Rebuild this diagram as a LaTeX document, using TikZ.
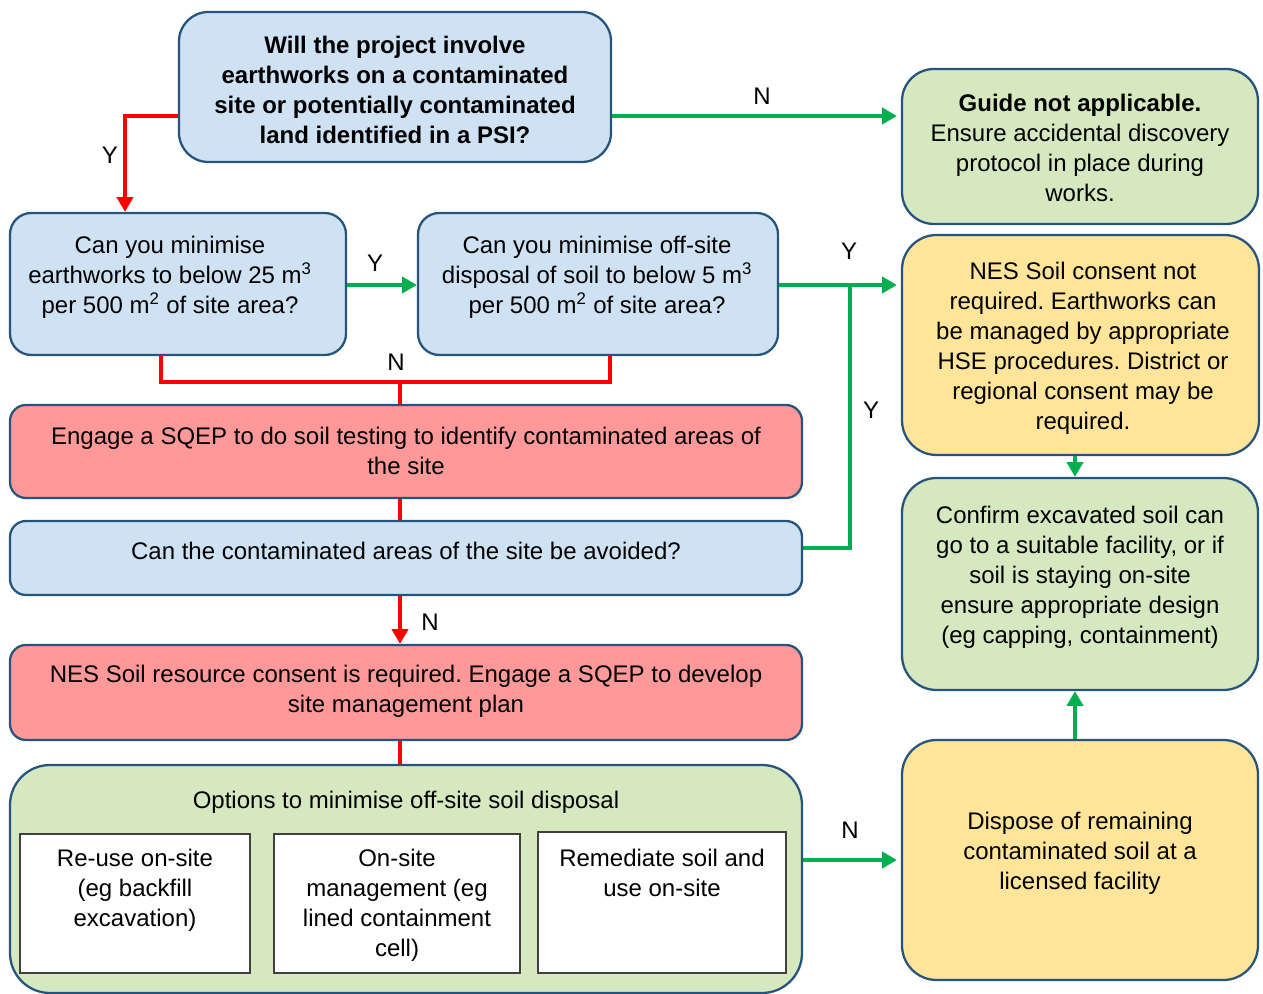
\documentclass[tikz,border=0pt]{standalone}
\usepackage{fontspec}
\setmainfont{Liberation Sans}
\usetikzlibrary{arrows.meta,fit}
\frenchspacing
\newcommand\myfs{\fontsize{18}{22.5}\selectfont}
\definecolor{bfill}{RGB}{207,226,243}
\definecolor{bdraw}{RGB}{38,84,124}
\definecolor{gfill}{RGB}{213,232,192}
\definecolor{yfill}{RGB}{255,229,153}
\definecolor{rfill}{RGB}{255,153,153}
\definecolor{cred}{RGB}{255,0,0}
\definecolor{cgreen}{RGB}{0,176,80}
\definecolor{ibox}{RGB}{64,64,64}
\begin{document}
\begin{tikzpicture}[x=0.75pt,y=-0.75pt,
  box/.style={draw=bdraw, line width=1.7pt, inner sep=0pt},
  inbox/.style={draw=ibox, line width=0.8pt, fill=white, inner sep=0pt},
  txt/.style={align=center, font=\myfs, inner sep=0pt},
  lbl/.style={font=\myfs, inner sep=0pt},
  cr/.style={draw=cred, line width=2.8pt},
  cg/.style={draw=cgreen, line width=2.8pt},
  arr/.style={-{Triangle[length=11pt,width=12pt]}}]
\useasboundingbox (0,0) rectangle (1263,994);

% boxes
\node[box, fill=bfill, rounded corners=22pt, fit={(179,12) (611,162)}] (b1) {};
\node[txt, font=\myfs\bfseries] (t1) at (395,90)
  {Will the project involve\\ earthworks on a contaminated\\ site or potentially contaminated\\ land identified in a PSI?};
\node[box, fill=gfill, rounded corners=24pt, fit={(902,69) (1258,224)}] (b2) {};
\node[txt] (t2) at (1080,148)
  {\textbf{Guide not applicable.}\\ Ensure accidental discovery\\ protocol in place during\\ works.};
\node[box, fill=bfill, rounded corners=16pt, fit={(10,213) (346,355)}] (b3) {};
\node[txt] (t3) at (170,277) {Can you minimise\\ earthworks to below 25 m\textsuperscript{3}\\ per 500 m\textsuperscript{2} of site area?};
\node[box, fill=bfill, rounded corners=16pt, fit={(418,213) (778,355)}] (b4) {};
\node[txt] (t4) at (597,277) {Can you minimise off-site\\ disposal of soil to below 5 m\textsuperscript{3}\\ per 500 m\textsuperscript{2} of site area?};
\node[box, fill=yfill, rounded corners=26pt, fit={(902,235) (1259,455)}] (b5) {};
\node[txt] (t5) at (1083,348)
  {NES Soil consent not\\ required. Earthworks can\\ be managed by appropriate\\ HSE procedures. District or\\ regional consent may be\\ required.};
\node[box, fill=rfill, rounded corners=12pt, fit={(10,405) (802,498)}] (b6) {};
\node[txt] (t6) at (406,451)
  {Engage a SQEP to do soil testing to identify contaminated areas of\\ the site};
\node[box, fill=bfill, rounded corners=12pt, fit={(10,521) (802,595)}] (b7) {};
\node[txt] (t7) at (406,551) {Can the contaminated areas of the site be avoided?};
\node[box, fill=gfill, rounded corners=26pt, fit={(902,478) (1258,690)}] (b8) {};
\node[txt] (t8) at (1080,577) {Confirm excavated soil can\\ go to a suitable facility, or if\\ soil is staying on-site\\ ensure appropriate design\\ (eg capping, containment)};
\node[box, fill=rfill, rounded corners=12pt, fit={(10,645) (802,740)}] (b9) {};
\node[txt] (t9) at (406,691)
  {NES Soil resource consent is required. Engage a SQEP to develop\\ site management plan};
\node[box, fill=gfill, rounded corners=30pt, fit={(10,765) (802,993)}] (b10) {};
\node[txt] (t10) at (406,802) {Options to minimise off-site soil disposal};
\node[inbox, fit={(20,834) (250,973)}] (c1) {};
\node[txt] (tc1) at (135,890) {Re-use on-site\\ (eg backfill\\ excavation)};
\node[inbox, fit={(274,834) (520,973)}] (c2) {};
\node[txt] (tc2) at (397,905) {On-site\\ management (eg\\ lined containment\\ cell)};
\node[inbox, fit={(538,832) (786,973)}] (c3) {};
\node[txt] (tc3) at (662,873) {Remediate soil and\\ use on-site};
\node[box, fill=yfill, rounded corners=26pt, fit={(902,740) (1258,980)}] (b12) {};
\node[txt] (t12) at (1080,853) {Dispose of remaining\\ contaminated soil at a\\ licensed facility};

% junction coordinates
\coordinate (jN) at (400,382);
\coordinate (jY) at (850,285);

% connectors
\draw[cr, arr] (b1.west |- 0,116) -| (b3.north -| 125,0);
\draw[cg, arr, shorten >=3pt] (b1.east |- 0,116) -- (b2.west |- 0,116);
\draw[cg, arr] (b3.east |- 0,285) -- (b4.west |- 0,285);
\draw[cr] (b3.south -| 161,0) |- (jN) -| (b4.south -| 610,0);
\draw[cr] (jN) -- (jN |- b6.north);
\draw[cg, arr, shorten >=3pt] (b4.east |- 0,285) -- (b5.west |- 0,285);
\draw[cg] (b7.east |- 0,548) -| (jY);
\draw[cr] (b6.south -| 400,0) -- (b7.north -| 400,0);
\draw[cr, arr] (b7.south -| 400,0) -- (b9.north -| 400,0);
\draw[cr] (b9.south -| 400,0) -- (b10.north -| 400,0);
\draw[cg, arr, shorten >=3pt] (b10.east |- 0,860) -- (b12.west |- 0,860);
\draw[cg, arr] (b5.south -| 1075,0) -- (b8.north -| 1075,0);
\draw[cg, arr] (b12.north -| 1075,0) -- (b8.south -| 1075,0);

% labels
\node[lbl] (lY1) at (110,155) {Y};
\node[lbl] (lN1) at (762,96) {N};
\node[lbl] (lY2) at (375,263) {Y};
\node[lbl] (lN2) at (396,362) {N};
\node[lbl] (lY3) at (849,251) {Y};
\node[lbl] (lY4) at (871,410) {Y};
\node[lbl] (lN3) at (430,622) {N};
\node[lbl] (lN4) at (850,830) {N};
\end{tikzpicture}
\end{document}
